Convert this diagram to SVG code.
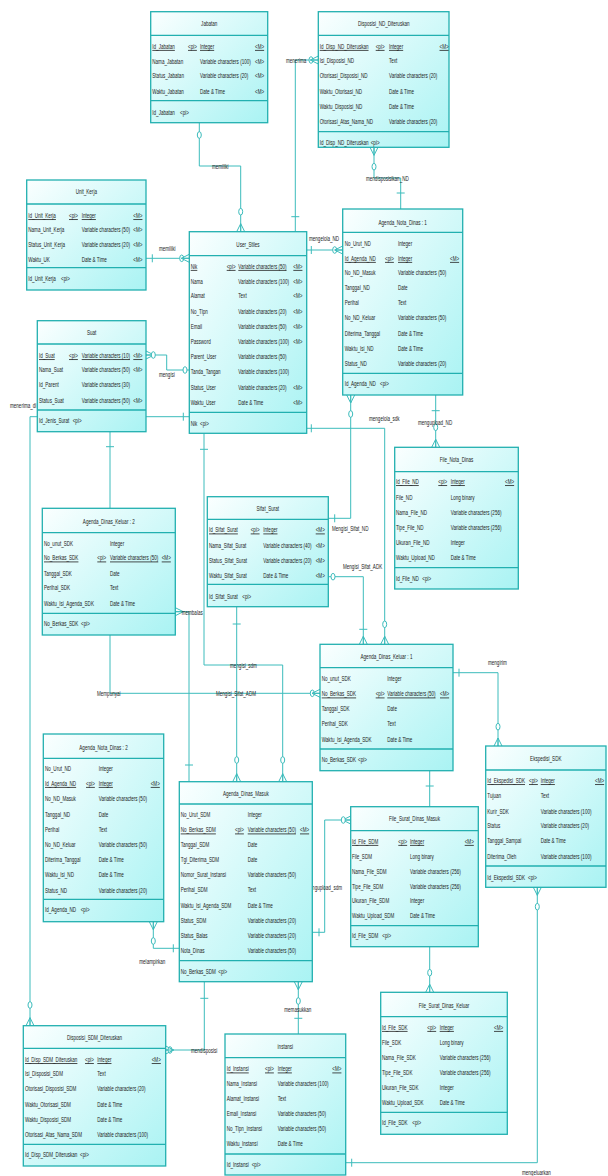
<svg xmlns="http://www.w3.org/2000/svg" width="608" height="1176" viewBox="0 0 608 1176">
<style>
text{font-family:"Liberation Sans",Arial,sans-serif;font-size:8px;fill:#222}
.tt{text-anchor:middle}
.u{text-decoration:underline}
.box{fill:url(#g);stroke:#22b0b0;stroke-width:1.3}
.sep{fill:none;stroke:#22b0b0;stroke-width:1.3}
.ln{fill:none;stroke:#3cbcbc;stroke-width:1}
.ci{fill:#fff;stroke:#3cbcbc;stroke-width:1}
</style>
<defs>
<linearGradient id="g" x1="0" y1="0" x2="1" y2="1"><stop offset="0" stop-color="#fbffff"/><stop offset="1" stop-color="#a9f3f3"/></linearGradient>
<path id="cf" d="M-8 0L0-4M-8 0H0M-8 0L0 4" fill="none" stroke="#3cbcbc" stroke-width="1"/>
<path id="br" d="M0-4V4" fill="none" stroke="#3cbcbc" stroke-width="1"/>
</defs>
<rect width="608" height="1176" fill="#fff"/>
<g id="connectors">
<path class="ln" d="M199.3 122.7V166H240.7V231.7"/>
<ellipse class="ci" cx="199.3" cy="135" rx="2" ry="3.3"/><ellipse class="ci" cx="240.7" cy="211.7" rx="2" ry="3.3"/>
<use href="#cf" transform="translate(240.7 231.7) rotate(90)"/>
<text transform="translate(212 169) scale(.57 1)">memiliki</text>

<path class="ln" d="M318.3 60H295.3V231.7"/>
<ellipse class="ci" cx="311" cy="60" rx="2" ry="3.3"/>
<use href="#cf" transform="translate(318.3 60)"/>
<use href="#br" transform="translate(295.3 216.7) rotate(90)"/>
<text transform="translate(286 63) scale(.57 1)">menerima</text>

<path class="ln" d="M374 147.3V178H400.7V209"/>
<use href="#cf" transform="translate(374 147.3) rotate(-90)"/>
<ellipse class="ci" cx="374" cy="166.7" rx="2" ry="3.3"/>
<use href="#br" transform="translate(400.7 193) rotate(90)"/>
<text transform="translate(366 181) scale(.57 1)">mendisposisikan_ND</text>

<path class="ln" d="M146 258.3H189.3"/>
<use href="#br" transform="translate(152.3 258.3)"/>
<ellipse class="ci" cx="181.7" cy="258.3" rx="2" ry="3.3"/>
<use href="#cf" transform="translate(189.3 258.3)"/>
<text transform="translate(159 250.7) scale(.57 1)">memiliki</text>

<path class="ln" d="M306.7 250H342.7"/>
<use href="#br" transform="translate(311.3 250)"/>
<ellipse class="ci" cx="334.7" cy="250" rx="2" ry="3.3"/>
<use href="#cf" transform="translate(342.7 250)"/>
<text transform="translate(309 241.3) scale(.57 1)">mengelola_ND</text>

<path class="ln" d="M146 355H166.7V370H189.3"/>
<use href="#cf" transform="translate(146 355) rotate(180)"/>
<ellipse class="ci" cx="153.3" cy="355" rx="2" ry="3.3"/>
<ellipse class="ci" cx="185" cy="370" rx="2" ry="3.3"/>
<text transform="translate(159 377) scale(.57 1)">mengisi</text>

<path class="ln" d="M189.3 416.7H30V1025.7"/>
<use href="#br" transform="translate(183.3 416.7)"/>
<ellipse class="ci" cx="30" cy="1005" rx="2" ry="3.3"/>
<use href="#cf" transform="translate(30 1025.7) rotate(90)"/>
<text transform="translate(10 408) scale(.57 1)">menerima_di</text>

<path class="ln" d="M110 431.7V508.3"/>
<use href="#br" transform="translate(110 446.7) rotate(90)"/>

<path class="ln" d="M204 433.3V665H282.7V781.7"/>
<use href="#br" transform="translate(204 449.3) rotate(90)"/>
<ellipse class="ci" cx="282.7" cy="760" rx="2" ry="3.3"/>
<use href="#cf" transform="translate(282.7 781.7) rotate(90)"/>
<text transform="translate(230 668) scale(.57 1)">mengisi_sdm</text>

<path class="ln" d="M350.7 395V518.3H328.3"/>
<use href="#cf" transform="translate(350.7 395) rotate(-90)"/>
<ellipse class="ci" cx="350.7" cy="414" rx="2" ry="3.3"/>
<use href="#br" transform="translate(334.7 518.3)"/>
<text transform="translate(332 531.3) scale(.57 1)">Mengisi_Sifat_ND</text>

<path class="ln" d="M328.3 576.7H363.3V644.3"/>
<ellipse class="ci" cx="333" cy="576.7" rx="2" ry="3.3"/>
<use href="#br" transform="translate(363.3 629.3) rotate(90)"/>
<use href="#cf" transform="translate(363.3 644.3) rotate(90)"/>
<text transform="translate(343 569) scale(.57 1)">Mengisi_Sifat_ADK</text>

<path class="ln" d="M306.7 428.3H384.7V644.3"/>
<use href="#br" transform="translate(311.3 428.3)"/>
<ellipse class="ci" cx="384.7" cy="624.3" rx="2" ry="3.3"/>
<use href="#cf" transform="translate(384.7 644.3) rotate(90)"/>
<text transform="translate(369 421.3) scale(.57 1)">mengelola_sdk</text>

<path class="ln" d="M435.7 395V447.3"/>
<use href="#br" transform="translate(435.7 410.7) rotate(90)"/>
<ellipse class="ci" cx="435.7" cy="427.3" rx="2" ry="3.3"/>
<use href="#cf" transform="translate(435.7 447.3) rotate(90)"/>
<text transform="translate(418 425.3) scale(.57 1)">mengupload_ND</text>

<path class="ln" d="M175.3 611.7H189V781.7"/>
<use href="#cf" transform="translate(175.3 611.7) rotate(180)"/>
<use href="#br" transform="translate(189 765) rotate(90)"/>
<text transform="translate(181.7 614.7) scale(.57 1)">membalas</text>

<path class="ln" d="M110 635V693.3H320"/>
<ellipse class="ci" cx="312.3" cy="693.3" rx="2" ry="3.3"/>
<use href="#cf" transform="translate(320 693.3)"/>
<text transform="translate(97 696.3) scale(.57 1)">Mempunyai</text>

<path class="ln" d="M236.7 606.7V781.7"/>
<use href="#br" transform="translate(236.7 624) rotate(90)"/>
<ellipse class="ci" cx="236.7" cy="760" rx="2" ry="3.3"/>
<use href="#cf" transform="translate(236.7 781.7) rotate(90)"/>
<text transform="translate(216 696.3) scale(.57 1)">Mengisi_Sifat_ADM</text>

<path class="ln" d="M453 672.7H498V746"/>
<use href="#br" transform="translate(459 672.7)"/>
<ellipse class="ci" cx="498" cy="726.7" rx="2" ry="3.3"/>
<use href="#cf" transform="translate(498 746) rotate(90)"/>
<text transform="translate(488 665.3) scale(.57 1)">mengirim</text>

<path class="ln" d="M429.7 770.7V992.3"/>
<use href="#br" transform="translate(429.7 786) rotate(90)"/>
<ellipse class="ci" cx="429.7" cy="972.7" rx="2" ry="3.3"/>
<use href="#cf" transform="translate(429.7 992.3) rotate(90)"/>

<path class="ln" d="M350.7 820H324.7V932.3H312.3"/>
<use href="#cf" transform="translate(350.7 820)"/>
<ellipse class="ci" cx="343.3" cy="820" rx="2" ry="3.3"/>
<use href="#br" transform="translate(319 932.3)"/>
<text transform="translate(305.8 889.7) scale(.57 1)">mengupload_sdm</text>

<path class="ln" d="M153.3 921.7V948.3H179.3"/>
<use href="#cf" transform="translate(153.3 921.7) rotate(-90)"/>
<ellipse class="ci" cx="153.3" cy="941" rx="2" ry="3.3"/>
<use href="#br" transform="translate(173.3 948.3)"/>
<text transform="translate(139.3 964) scale(.57 1)">melampirkan</text>

<path class="ln" d="M204.3 981.7V1050H165.7"/>
<use href="#br" transform="translate(204.3 998.3) rotate(90)"/>
<ellipse class="ci" cx="170" cy="1050" rx="2" ry="3.3"/>
<use href="#cf" transform="translate(165.7 1050) rotate(180)"/>
<text transform="translate(191 1053) scale(.57 1)">mendisposisi</text>

<path class="ln" d="M298.3 981.7V1034"/>
<use href="#cf" transform="translate(298.3 981.7) rotate(-90)"/>
<ellipse class="ci" cx="298.3" cy="1001" rx="2" ry="3.3"/>
<use href="#br" transform="translate(298.3 1018.3) rotate(90)"/>
<text transform="translate(284.3 1012.3) scale(.57 1)">memasukkan</text>

<path class="ln" d="M537.3 887.3V1162.7H345.7"/>
<use href="#cf" transform="translate(537.3 887.3) rotate(-90)"/>
<ellipse class="ci" cx="537.3" cy="906.7" rx="2" ry="3.3"/>
<use href="#br" transform="translate(351.7 1162.7)"/>
<text transform="translate(522 1175) scale(.57 1)">mengeluarkan</text>
</g>

<g id="jabatan">
<rect class="box" x="150.7" y="11.7" width="117" height="111"/>
<path class="sep" d="M150.7 35.3H267.7M150.7 100.7H267.7"/>
<text class="tt" transform="translate(209.2 26.3) scale(.57 1)">Jabatan</text>
<g transform="translate(152.3 0) scale(.57 1)"><text y="48.7" class="u">Id_Jabatan</text><text y="64">Nama_Jabatan</text><text y="78.3">Status_Jabatan</text><text y="93.7">Waktu_Jabatan</text><text y="114.7">Id_Jabatan</text></g>
<g transform="translate(188 0) scale(.57 1)"><text y="48.7" class="u">&lt;pi&gt;</text></g>
<g transform="translate(180 0) scale(.57 1)"><text y="114.7">&lt;pi&gt;</text></g>
<g transform="translate(200 0) scale(.57 1)"><text y="48.7" class="u">Integer</text><text y="64">Variable characters (100)</text><text y="78.3">Variable characters (20)</text><text y="93.7">Date &amp; Time</text></g>
<g transform="translate(255 0) scale(.57 1)"><text y="48.7" class="u">&lt;M&gt;</text><text y="64">&lt;M&gt;</text><text y="78.3">&lt;M&gt;</text><text y="93.7">&lt;M&gt;</text></g>
</g>

<g id="disposisi_nd">
<rect class="box" x="318.3" y="11.7" width="130.7" height="135.6"/>
<path class="sep" d="M318.3 35.3H449M318.3 131.7H449"/>
<text class="tt" transform="translate(383.7 26.3) scale(.57 1)">Disposisi_ND_Diteruskan</text>
<g transform="translate(319.7 0) scale(.57 1)"><text y="48.7" class="u">Id_Disp_ND_Diteruskan</text><text y="63">Isi_Disposisi_ND</text><text y="78.3">Otorisasi_Disposisi_ND</text><text y="93.7">Waktu_Otorisasi_ND</text><text y="109">Waktu_Disposisi_ND</text><text y="124">Otorisasi_Atas_Nama_ND</text><text y="144.7">Id_Disp_ND_Diteruskan</text></g>
<g transform="translate(375.7 0) scale(.57 1)"><text y="48.7" class="u">&lt;pi&gt;</text></g>
<g transform="translate(370.7 0) scale(.57 1)"><text y="144.7">&lt;pi&gt;</text></g>
<g transform="translate(389 0) scale(.57 1)"><text y="48.7" class="u">Integer</text><text y="63">Text</text><text y="78.3">Variable characters (20)</text><text y="93.7">Date &amp; Time</text><text y="109">Date &amp; Time</text><text y="124">Variable characters (20)</text></g>
<g transform="translate(439.5 0) scale(.57 1)"><text y="48.7" class="u">&lt;M&gt;</text></g>
</g>

<g id="unit_kerja">
<rect class="box" x="26.7" y="180" width="119.3" height="110"/>
<path class="sep" d="M26.7 204H146M26.7 267.7H146"/>
<text class="tt" transform="translate(86.3 194) scale(.57 1)">Unit_Kerja</text>
<g transform="translate(28.3 0) scale(.57 1)"><text y="218" class="u">Id_Unit_Kerja</text><text y="232.3">Nama_Unit_Kerja</text><text y="247.3">Status_Unit_Kerja</text><text y="262">Waktu_UK</text><text y="281.3">Id_Unit_Kerja</text></g>
<g transform="translate(69 0) scale(.57 1)"><text y="218" class="u">&lt;pi&gt;</text></g>
<g transform="translate(61 0) scale(.57 1)"><text y="281.3">&lt;pi&gt;</text></g>
<g transform="translate(81.7 0) scale(.57 1)"><text y="218" class="u">Integer</text><text y="232.3">Variable characters (50)</text><text y="247.3">Variable characters (20)</text><text y="262">Date &amp; Time</text></g>
<g transform="translate(133.3 0) scale(.57 1)"><text y="218" class="u">&lt;M&gt;</text><text y="232.3">&lt;M&gt;</text><text y="247.3">&lt;M&gt;</text><text y="262">&lt;M&gt;</text></g>
</g>

<g id="user_stiles">
<rect class="box" x="189.3" y="231.7" width="117.4" height="201.6"/>
<path class="sep" d="M189.3 255.7H306.7M189.3 412.3H306.7"/>
<text class="tt" transform="translate(248 247.3) scale(.57 1)">User_Stiles</text>
<g transform="translate(190.7 0) scale(.57 1)"><text y="268.7" class="u">Nik</text><text y="283.7">Nama</text><text y="298">Alamat</text><text y="314">No_Tlpn</text><text y="329">Email</text><text y="343.7">Password</text><text y="359">Parent_User</text><text y="373.7">Tanda_Tangan</text><text y="389.7">Status_User</text><text y="405.3">Waktu_User</text><text y="425.7">Nik</text></g>
<g transform="translate(226.7 0) scale(.57 1)"><text y="268.7" class="u">&lt;pi&gt;</text></g>
<g transform="translate(200 0) scale(.57 1)"><text y="425.7">&lt;pi&gt;</text></g>
<g transform="translate(238.3 0) scale(.57 1)"><text y="268.7" class="u">Variable characters (50)</text><text y="283.7">Variable characters (100)</text><text y="298">Text</text><text y="314">Variable characters (20)</text><text y="329">Variable characters (50)</text><text y="343.7">Variable characters (100)</text><text y="359">Variable characters (50)</text><text y="373.7">Variable characters (100)</text><text y="389.7">Variable characters (20)</text><text y="405.3">Date &amp; Time</text></g>
<g transform="translate(293.3 0) scale(.57 1)"><text y="268.7" class="u">&lt;M&gt;</text><text y="283.7">&lt;M&gt;</text><text y="298">&lt;M&gt;</text><text y="314">&lt;M&gt;</text><text y="329">&lt;M&gt;</text><text y="343.7">&lt;M&gt;</text><text y="389.7">&lt;M&gt;</text><text y="405.3">&lt;M&gt;</text></g>
</g>

<g id="surat">
<rect class="box" x="37.3" y="320.7" width="108.7" height="111"/>
<path class="sep" d="M37.3 344H146M37.3 410H146"/>
<text class="tt" transform="translate(91.7 335.3) scale(.57 1)">Suat</text>
<g transform="translate(39 0) scale(.57 1)"><text y="358" class="u">Id_Suat</text><text y="372.3">Nama_Suat</text><text y="387.3">Id_Parent</text><text y="403">Status_Suat</text><text y="423">Id_Jenis_Surat</text></g>
<g transform="translate(69 0) scale(.57 1)"><text y="358" class="u">&lt;pi&gt;</text></g>
<g transform="translate(72.7 0) scale(.57 1)"><text y="423">&lt;pi&gt;</text></g>
<g transform="translate(81.7 0) scale(.57 1)"><text y="358" class="u">Variable characters (10)</text><text y="372.3">Variable characters (50)</text><text y="387.3">Variable characters (30)</text><text y="403">Variable characters (50)</text></g>
<g transform="translate(133.3 0) scale(.57 1)"><text y="358" class="u">&lt;M&gt;</text><text y="372.3">&lt;M&gt;</text><text y="403">&lt;M&gt;</text></g>
</g>

<g id="agenda_nota_dinas_1">
<rect class="box" x="342.7" y="209" width="120" height="186"/>
<path class="sep" d="M342.7 232.3H462.7M342.7 373.3H462.7"/>
<text class="tt" transform="translate(402.7 224.7) scale(.57 1)">Agenda_Nota_Dinas : 1</text>
<g transform="translate(344.7 0) scale(.57 1)"><text y="245.7">No_Urut_ND</text><text y="260.7" class="u">Id_Agenda_ND</text><text y="275.3">No_ND_Masuk</text><text y="290.3">Tanggal_ND</text><text y="305">Perihal</text><text y="320.3">No_ND_Keluar</text><text y="335.7">Diterima_Tanggal</text><text y="350.7">Waktu_Isi_ND</text><text y="366.3">Status_ND</text><text y="386.3">Id_Agenda_ND</text></g>
<g transform="translate(385 0) scale(.57 1)"><text y="260.7" class="u">&lt;pi&gt;</text></g>
<g transform="translate(380 0) scale(.57 1)"><text y="386.3">&lt;pi&gt;</text></g>
<g transform="translate(398 0) scale(.57 1)"><text y="245.7">Integer</text><text y="260.7" class="u">Integer</text><text y="275.3">Variable characters (50)</text><text y="290.3">Date</text><text y="305">Text</text><text y="320.3">Variable characters (50)</text><text y="335.7">Date &amp; Time</text><text y="350.7">Date &amp; Time</text><text y="366.3">Variable characters (20)</text></g>
<g transform="translate(450 0) scale(.57 1)"><text y="260.7" class="u">&lt;M&gt;</text></g>
</g>

<g id="sifat_surat">
<rect class="box" x="207.3" y="496.7" width="121" height="110"/>
<path class="sep" d="M207.3 519.3H328.3M207.3 584.3H328.3"/>
<text class="tt" transform="translate(267.8 511.3) scale(.57 1)">Sifat_Surat</text>
<g transform="translate(209 0) scale(.57 1)"><text y="532.3" class="u">Id_Sifat_Surat</text><text y="548">Nama_Sifat_Surat</text><text y="563">Status_Sifat_Surat</text><text y="578">Waktu_Sifat_Surat</text><text y="598.7">Id_Sifat_Surat</text></g>
<g transform="translate(250.7 0) scale(.57 1)"><text y="532.3" class="u">&lt;pi&gt;</text></g>
<g transform="translate(242.3 0) scale(.57 1)"><text y="598.7">&lt;pi&gt;</text></g>
<g transform="translate(263.3 0) scale(.57 1)"><text y="532.3" class="u">Integer</text><text y="548">Variable characters (40)</text><text y="563">Variable characters (20)</text><text y="578">Date &amp; Time</text></g>
<g transform="translate(315.7 0) scale(.57 1)"><text y="532.3" class="u">&lt;M&gt;</text><text y="548">&lt;M&gt;</text><text y="563">&lt;M&gt;</text><text y="578">&lt;M&gt;</text></g>
</g>

<g id="file_nota_dinas">
<rect class="box" x="394.7" y="447.3" width="123.6" height="141.7"/>
<path class="sep" d="M394.7 471.7H518.3M394.7 567.7H518.3"/>
<text class="tt" transform="translate(456.5 462) scale(.57 1)">File_Nota_Dinas</text>
<g transform="translate(396 0) scale(.57 1)"><text y="484" class="u">Id_File_ND</text><text y="500.3">File_ND</text><text y="515.3">Nama_File_ND</text><text y="529.7">Tipe_File_ND</text><text y="545.3">Ukuran_File_ND</text><text y="560.3">Waktu_Upload_ND</text><text y="580.7">Id_File_ND</text></g>
<g transform="translate(438.3 0) scale(.57 1)"><text y="484" class="u">&lt;pi&gt;</text></g>
<g transform="translate(422.3 0) scale(.57 1)"><text y="580.7">&lt;pi&gt;</text></g>
<g transform="translate(450.7 0) scale(.57 1)"><text y="484" class="u">Integer</text><text y="500.3">Long binary</text><text y="515.3">Variable characters (256)</text><text y="529.7">Variable characters (256)</text><text y="545.3">Integer</text><text y="560.3">Date &amp; Time</text></g>
<g transform="translate(505 0) scale(.57 1)"><text y="484" class="u">&lt;M&gt;</text></g>
</g>

<g id="agenda_dinas_keluar_2">
<rect class="box" x="42.3" y="508.3" width="133" height="126.7"/>
<path class="sep" d="M42.3 532.7H175.3M42.3 613.3H175.3"/>
<text class="tt" transform="translate(108.8 524) scale(.57 1)">Agenda_Dinas_Keluar : 2</text>
<g transform="translate(44 0) scale(.57 1)"><text y="545.7">No_unut_SDK</text><text y="560.3" class="u">No_Berkas_SDK</text><text y="575.7">Tanggal_SDK</text><text y="589.7">Perihal_SDK</text><text y="606.3">Waktu_Isi_Agenda_SDK</text><text y="626.3">No_Berkas_SDK</text></g>
<g transform="translate(97.3 0) scale(.57 1)"><text y="560.3" class="u">&lt;pi&gt;</text></g>
<g transform="translate(81 0) scale(.57 1)"><text y="626.3">&lt;pi&gt;</text></g>
<g transform="translate(110 0) scale(.57 1)"><text y="545.7">Integer</text><text y="560.3" class="u">Variable characters (50)</text><text y="575.7">Date</text><text y="589.7">Text</text><text y="606.3">Date &amp; Time</text></g>
<g transform="translate(161.7 0) scale(.57 1)"><text y="560.3" class="u">&lt;M&gt;</text></g>
</g>

<g id="agenda_dinas_keluar_1">
<rect class="box" x="320" y="644.3" width="133" height="126.4"/>
<path class="sep" d="M320 667.7H453M320 749H453"/>
<text class="tt" transform="translate(386.5 659) scale(.57 1)">Agenda_Dinas_Keluar : 1</text>
<g transform="translate(321.7 0) scale(.57 1)"><text y="680.7">No_unut_SDK</text><text y="696.3" class="u">No_Berkas_SDK</text><text y="711.3">Tanggal_SDK</text><text y="726.3">Perihal_SDK</text><text y="742">Waktu_Isi_Agenda_SDK</text><text y="762">No_Berkas_SDK</text></g>
<g transform="translate(375.7 0) scale(.57 1)"><text y="696.3" class="u">&lt;pi&gt;</text></g>
<g transform="translate(358 0) scale(.57 1)"><text y="762">&lt;pi&gt;</text></g>
<g transform="translate(387.3 0) scale(.57 1)"><text y="680.7">Integer</text><text y="696.3" class="u">Variable characters (50)</text><text y="711.3">Date</text><text y="726.3">Text</text><text y="742">Date &amp; Time</text></g>
<g transform="translate(440 0) scale(.57 1)"><text y="696.3" class="u">&lt;M&gt;</text></g>
</g>

<g id="agenda_nota_dinas_2">
<rect class="box" x="43.3" y="734" width="120.4" height="187.7"/>
<path class="sep" d="M43.3 758.3H163.7M43.3 899.3H163.7"/>
<text class="tt" transform="translate(103.5 749.7) scale(.57 1)">Agenda_Nota_Dinas : 2</text>
<g transform="translate(45 0) scale(.57 1)"><text y="771.3">No_Urut_ND</text><text y="785.7" class="u">Id_Agenda_ND</text><text y="801.3">No_ND_Masuk</text><text y="817">Tanggal_ND</text><text y="832.3">Perihal</text><text y="847">No_ND_Keluar</text><text y="862.3">Diterima_Tanggal</text><text y="877.3">Waktu_Isi_ND</text><text y="893">Status_ND</text><text y="912.3">Id_Agenda_ND</text></g>
<g transform="translate(86 0) scale(.57 1)"><text y="785.7" class="u">&lt;pi&gt;</text></g>
<g transform="translate(80.7 0) scale(.57 1)"><text y="912.3">&lt;pi&gt;</text></g>
<g transform="translate(98.7 0) scale(.57 1)"><text y="771.3">Integer</text><text y="785.7" class="u">Integer</text><text y="801.3">Variable characters (50)</text><text y="817">Date</text><text y="832.3">Text</text><text y="847">Variable characters (50)</text><text y="862.3">Date &amp; Time</text><text y="877.3">Date &amp; Time</text><text y="893">Variable characters (20)</text></g>
<g transform="translate(150.7 0) scale(.57 1)"><text y="785.7" class="u">&lt;M&gt;</text></g>
</g>

<g id="agenda_dinas_masuk">
<rect class="box" x="179.3" y="781.7" width="133" height="200"/>
<path class="sep" d="M179.3 804H312.3M179.3 960.7H312.3"/>
<text class="tt" transform="translate(245.8 796.3) scale(.57 1)">Agenda_Dinas_Masuk</text>
<g transform="translate(180.7 0) scale(.57 1)"><text y="817">No_Urut_SDM</text><text y="832.3" class="u">No_Berkas_SDM</text><text y="847">Tanggal_SDM</text><text y="862">Tgl_Diterima_SDM</text><text y="877.3">Nomor_Surat_Instansi</text><text y="892.3">Perihal_SDM</text><text y="908">Waktu_Isi_Agenda_SDM</text><text y="923">Status_SDM</text><text y="938">Status_Balas</text><text y="953">Nota_Dinas</text><text y="973.7">No_Berkas_SDM</text></g>
<g transform="translate(235 0) scale(.57 1)"><text y="832.3" class="u">&lt;pi&gt;</text></g>
<g transform="translate(218.3 0) scale(.57 1)"><text y="973.7">&lt;pi&gt;</text></g>
<g transform="translate(247.7 0) scale(.57 1)"><text y="817">Integer</text><text y="832.3" class="u">Variable characters (50)</text><text y="847">Date</text><text y="862">Date</text><text y="877.3">Variable characters (50)</text><text y="892.3">Text</text><text y="908">Date &amp; Time</text><text y="923">Variable characters (20)</text><text y="938">Variable characters (20)</text><text y="953">Variable characters (50)</text></g>
<g transform="translate(300 0) scale(.57 1)"><text y="832.3" class="u">&lt;M&gt;</text></g>
</g>

<g id="ekspedisi_sdk">
<rect class="box" x="485.7" y="746" width="120.3" height="141.3"/>
<path class="sep" d="M485.7 770H606M485.7 866H606"/>
<text class="tt" transform="translate(545.8 761.3) scale(.57 1)">Ekspedisi_SDK</text>
<g transform="translate(487.3 0) scale(.57 1)"><text y="783" class="u">Id_Ekspedisi_SDK</text><text y="798">Tujuan</text><text y="813.7">Kurir_SDK</text><text y="828">Status</text><text y="843">Tanggal_Sampai</text><text y="859">Diterima_Oleh</text><text y="879.7">Id_Ekspedisi_SDK</text></g>
<g transform="translate(529 0) scale(.57 1)"><text y="783" class="u">&lt;pi&gt;</text></g>
<g transform="translate(528 0) scale(.57 1)"><text y="879.7">&lt;pi&gt;</text></g>
<g transform="translate(540.7 0) scale(.57 1)"><text y="783" class="u">Integer</text><text y="798">Text</text><text y="813.7">Variable characters (100)</text><text y="828">Variable characters (20)</text><text y="843">Date &amp; Time</text><text y="859">Variable characters (100)</text></g>
<g transform="translate(595 0) scale(.57 1)"><text y="783" class="u">&lt;M&gt;</text></g>
</g>

<g id="file_surat_dinas_masuk">
<rect class="box" x="350.7" y="806.7" width="127.6" height="140"/>
<path class="sep" d="M350.7 830.7H478.3M350.7 925.7H478.3"/>
<text class="tt" transform="translate(414.5 821.3) scale(.57 1)">File_Surat_Dinas_Masuk</text>
<g transform="translate(352 0) scale(.57 1)"><text y="843.7" class="u">Id_File_SDM</text><text y="859">File_SDM</text><text y="873.7">Nama_File_SDM</text><text y="889">Tipe_File_SDM</text><text y="903">Ukuran_File_SDM</text><text y="918">Waktu_Upload_SDM</text><text y="938.3">Id_File_SDM</text></g>
<g transform="translate(398.3 0) scale(.57 1)"><text y="843.7" class="u">&lt;pi&gt;</text></g>
<g transform="translate(382.3 0) scale(.57 1)"><text y="938.3">&lt;pi&gt;</text></g>
<g transform="translate(410 0) scale(.57 1)"><text y="843.7" class="u">Integer</text><text y="859">Long binary</text><text y="873.7">Variable characters (256)</text><text y="889">Variable characters (256)</text><text y="903">Integer</text><text y="918">Date &amp; Time</text></g>
<g transform="translate(464.7 0) scale(.57 1)"><text y="843.7" class="u">&lt;M&gt;</text></g>
</g>

<g id="disposisi_sdm">
<rect class="box" x="23.3" y="1025.7" width="142.4" height="140.3"/>
<path class="sep" d="M23.3 1048.3H165.7M23.3 1144.3H165.7"/>
<text class="tt" transform="translate(94.5 1040.3) scale(.57 1)">Disposisi_SDM_Diteruskan</text>
<g transform="translate(25 0) scale(.57 1)"><text y="1062" class="u">Id_Disp_SDM_Diteruskan</text><text y="1076.3">Isi_Disposisi_SDM</text><text y="1091.3">Otorisasi_Disposisi_SDM</text><text y="1107">Waktu_Otorisasi_SDM</text><text y="1122">Waktu_Disposisi_SDM</text><text y="1137.3">Otorisasi_Atas_Nama_SDM</text><text y="1157.3">Id_Disp_SDM_Diteruskan</text></g>
<g transform="translate(85 0) scale(.57 1)"><text y="1062" class="u">&lt;pi&gt;</text></g>
<g transform="translate(80 0) scale(.57 1)"><text y="1157.3">&lt;pi&gt;</text></g>
<g transform="translate(97.3 0) scale(.57 1)"><text y="1062" class="u">Integer</text><text y="1076.3">Text</text><text y="1091.3">Variable characters (20)</text><text y="1107">Date &amp; Time</text><text y="1122">Date &amp; Time</text><text y="1137.3">Variable characters (100)</text></g>
<g transform="translate(151.7 0) scale(.57 1)"><text y="1062" class="u">&lt;M&gt;</text></g>
</g>

<g id="instansi">
<rect class="box" x="225" y="1034" width="120.7" height="141"/>
<path class="sep" d="M225 1057.7H345.7M225 1154H345.7"/>
<text class="tt" transform="translate(285.3 1048.7) scale(.57 1)">instansi</text>
<g transform="translate(226.7 0) scale(.57 1)"><text y="1071.3" class="u">Id_Instansi</text><text y="1086.3">Nama_Instansi</text><text y="1101.3">Alamat_Instansi</text><text y="1115.7">Email_Instansi</text><text y="1131.3">No_Tlpn_Instansi</text><text y="1146.3">Waktu_Instansi</text><text y="1167.3">Id_Instansi</text></g>
<g transform="translate(265 0) scale(.57 1)"><text y="1071.3" class="u">&lt;pi&gt;</text></g>
<g transform="translate(251.7 0) scale(.57 1)"><text y="1167.3">&lt;pi&gt;</text></g>
<g transform="translate(277.7 0) scale(.57 1)"><text y="1071.3" class="u">Integer</text><text y="1086.3">Variable characters (100)</text><text y="1101.3">Text</text><text y="1115.7">Variable characters (50)</text><text y="1131.3">Variable characters (50)</text><text y="1146.3">Date &amp; Time</text></g>
<g transform="translate(332.3 0) scale(.57 1)"><text y="1071.3" class="u">&lt;M&gt;</text></g>
</g>

<g id="file_surat_dinas_keluar">
<rect class="box" x="380.7" y="992.3" width="126.6" height="142"/>
<path class="sep" d="M380.7 1016.7H507.3M380.7 1112.3H507.3"/>
<text class="tt" transform="translate(444 1008) scale(.57 1)">File_Surat_Dinas_Keluar</text>
<g transform="translate(382 0) scale(.57 1)"><text y="1029.7" class="u">Id_File_SDK</text><text y="1045.3">File_SDK</text><text y="1059.7">Nama_File_SDK</text><text y="1075.3">Tipe_File_SDK</text><text y="1090.3">Ukuran_File_SDK</text><text y="1105.3">Waktu_Upload_SDK</text><text y="1125.3">Id_File_SDK</text></g>
<g transform="translate(427.3 0) scale(.57 1)"><text y="1029.7" class="u">&lt;pi&gt;</text></g>
<g transform="translate(412.3 0) scale(.57 1)"><text y="1125.3">&lt;pi&gt;</text></g>
<g transform="translate(439.7 0) scale(.57 1)"><text y="1029.7" class="u">Integer</text><text y="1045.3">Long binary</text><text y="1059.7">Variable characters (256)</text><text y="1075.3">Variable characters (256)</text><text y="1090.3">Integer</text><text y="1105.3">Date &amp; Time</text></g>
<g transform="translate(494 0) scale(.57 1)"><text y="1029.7" class="u">&lt;M&gt;</text></g>
</g>
</svg>
